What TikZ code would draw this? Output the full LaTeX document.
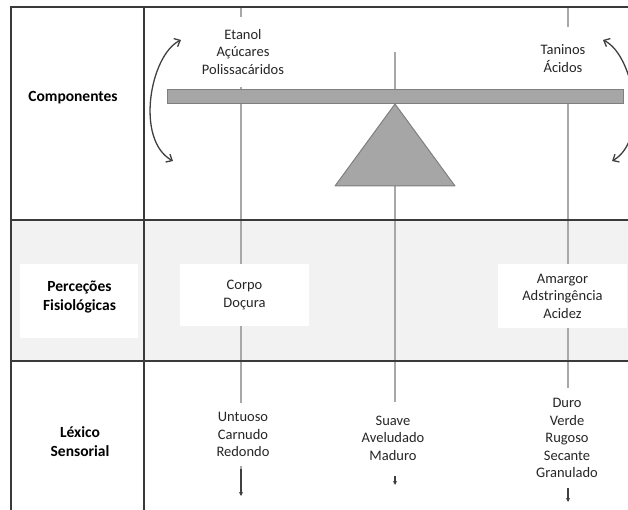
\documentclass[tikz,border=0pt]{standalone}
\usepackage{fontspec}
\setmainfont{Carlito}
\usetikzlibrary{arrows.meta}
\definecolor{gridc}{HTML}{3A3A3A}
\definecolor{vlinec}{HTML}{A8A8A8}
\definecolor{bandc}{HTML}{F2F2F2}
\definecolor{beamc}{HTML}{A6A6A6}
\definecolor{beamd}{HTML}{7F7F7F}
\definecolor{arrc}{HTML}{404040}
\definecolor{txtc}{HTML}{262626}
\begin{document}
\begin{tikzpicture}[x=1pt,y=-1pt,
  grid/.style={line width=2pt,draw=gridc},
  vline/.style={line width=1.4pt,draw=vlinec},
  txt/.style={font=\fontsize{14.5}{17.5}\selectfont,align=center,text=txtc,fill=white,inner sep=0pt},
  lbl/.style={font=\fontsize{15.5}{19}\selectfont\bfseries,align=center,text=black,inner sep=0pt},
  swing/.style={line width=1.3pt,draw=arrc,{Straight Barb[length=5pt,width=9pt,line width=1.3pt]}-{Straight Barb[length=5pt,width=9pt,line width=1.3pt]}},
  tip/.style={-{Stealth[length=4pt,width=4pt]},arrc}
]
\useasboundingbox (0,0) rectangle (628,510);
\clip (0,0) rectangle (628,510);
% gray band
\fill[bandc] (11,220) rectangle (628,361);
% vertical thin lines
\coordinate (l1t) at (241,7);
\coordinate (l1b) at (241,496);
\coordinate (l2t) at (395,52);
\coordinate (l2b) at (395,485);
\coordinate (l3t) at (568,7);
\coordinate (l3b) at (568,502);
\draw[vline] (l1t) -- (241,470);
\draw[vline,tip] (241,469) -- (l1b);
\draw[vline] (l2t) -- (395,470);
\draw[vline,tip] (395,476) -- (l2b);
\draw[vline] (l3t) -- (568,480);
\draw[vline,tip] (568,487) -- (l3b);
% grid
\coordinate (gtl) at (11,7);
\coordinate (gtr) at (628,7);
\coordinate (gbl) at (11,510);
\coordinate (ct) at (144,7);
\coordinate (cb) at (144,510);
\coordinate (r1l) at (11,220);
\coordinate (r1r) at (628,220);
\coordinate (r2l) at (11,361);
\coordinate (r2r) at (628,361);
\draw[grid] (gtr) -- (gtl) -- (gbl);
\draw[grid] (ct) -- (cb);
\draw[grid] (r1l) -- (r1r);
\draw[grid] (r2l) -- (r2r);
% text boxes top
\node[txt,minimum width=134pt,minimum height=70pt] (etanol) at (243,52) {Etanol\\Açúcares\\Polissacáridos};
\node[txt,minimum width=104pt,minimum height=62pt] (taninos) at (577,58) {};
\node[txt] (taninost) at (563,58.5) {Taninos\\Ácidos};
% beam and fulcrum
\node[draw=beamd,fill=beamc,line width=1pt,minimum width=456pt,minimum height=14pt,inner sep=0pt] (beam) at (395,97) {};
\coordinate (apex) at (395,104);
\coordinate (bl) at (335,186);
\coordinate (br) at (455,186);
\draw[draw=beamd,fill=beamc,line width=1pt,line join=round] (apex) -- (br) -- (bl) -- cycle;
% swing arrows
\coordinate (sa1) at (181,40);
\coordinate (sb1) at (173,161);
\draw[swing] (sa1) .. controls (150,55) and (135,140) .. (sb1);
\coordinate (sa2) at (603,40);
\coordinate (sb2) at (612,161);
\draw[swing] (sa2) .. controls (634,55) and (649,140) .. (sb2);
% row labels
\node[lbl] (comp) at (73,98) {Componentes};
\node[fill=white,minimum width=118pt,minimum height=73pt,inner sep=0pt] (percbox) at (79,301) {};
\node[lbl] (perc) at (79.5,297) {Perceções\\Fisiológicas};
\node[lbl] (lex) at (80,442) {Léxico\\Sensorial};
% middle row boxes
\node[txt,minimum width=129pt,minimum height=62pt] (corpo) at (244.5,295) {Corpo\\Doçura};
\node[txt,minimum width=129pt,minimum height=64pt] (amargor) at (562.5,296) {Amargor\\Adstringência\\Acidez};
% bottom row texts
\node[txt,minimum width=80pt,minimum height=63pt] (untuoso) at (243,434.5) {Untuoso\\Carnudo\\Redondo};
\node[txt,minimum width=80pt,minimum height=72pt] (suave) at (393,438) {Suave\\Aveludado\\Maduro};
\node[txt,minimum width=70pt,minimum height=100pt] (duro) at (567,438) {Duro\\Verde\\Rugoso\\Secante\\Granulado};
\end{tikzpicture}
\end{document}
